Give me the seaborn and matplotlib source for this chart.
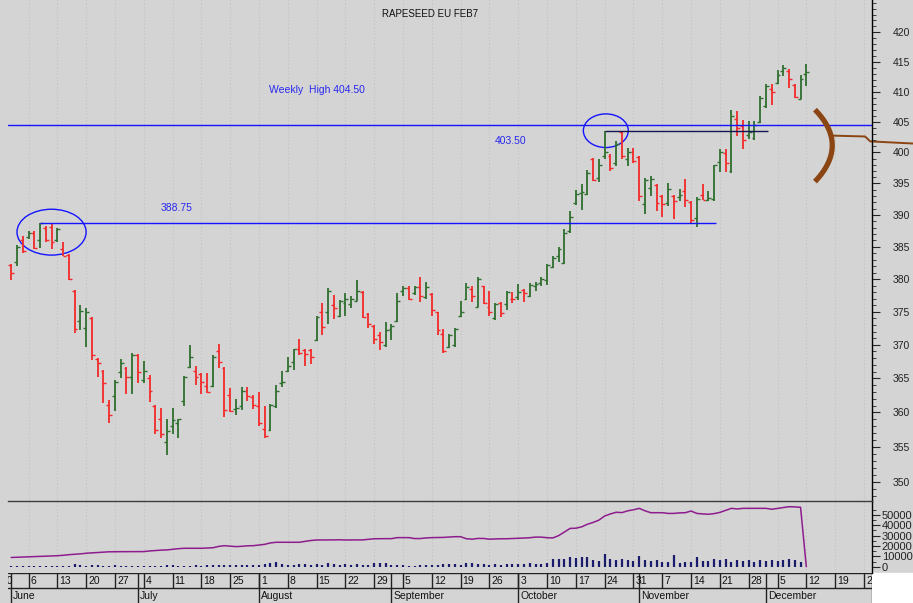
import numpy as np
import pandas as pd
import matplotlib
matplotlib.use('Agg')
import matplotlib.pyplot as plt
from matplotlib.patches import Ellipse, Rectangle
from matplotlib.ticker import FixedLocator, NullFormatter, FuncFormatter
import seaborn as sns

# trading-day index (0 = Mon 30 May 2016); first bar is Wed 1 June
first_idx = 2

opens = [382.1, 382.6, 386.1, 386.45, 387.1, 386.0, 387.9, 388.1,
         386.1, 384.7, 383.7, 378.2, 373.6, 372.6, 374.1, 367.9, 366.1, 361.1,
         362.4, 366.0, 366.6, 365.25, 368.5, 364.75, 365.0, 360.95, 359.1, 355.7,
         358.0, 358.4, 361.6, 366.65, 366.1, 365.65, 363.9, 363.9, 369.1, 366.6,
         362.5, 360.45, 360.9, 363.1, 362.3, 360.9, 357.6, 357.5, 360.9, 364.3,
         366.1, 367.5, 369.4, 369.15, 369.15, 370.7, 374.95, 374.95, 376.0, 374.4,
         376.25, 376.1, 376.6, 378.0, 374.7, 372.9, 371.4, 370.0, 372.4, 373.6,
         378.1, 378.6, 377.9, 378.75, 377.2, 377.7, 374.9, 371.65, 369.7, 370.0,
         374.4, 377.0, 378.5, 375.7, 378.9, 375.7, 374.05, 376.25, 376.1, 377.0,
         377.3, 378.3, 377.35, 378.95, 379.4, 379.8, 381.85, 383.6, 382.45, 387.4,
         391.9, 393.5, 393.4, 399.0, 395.9, 399.35, 399.5, 398.3, 403.3, 398.9,
         400.05, 399.3, 391.7, 394.3, 394.7, 392.95, 391.9, 393.05, 392.9, 393.75,
         392.0, 389.5, 393.2, 392.3, 392.5, 398.4, 399.95, 397.0, 405.45, 404.35,
         402.9, 402.4, 405.05, 407.55, 410.45, 411.45, 413.4, 413.4, 411.05, 408.8,
         412.9]
highs = [382.35, 385.2, 386.7, 387.5, 387.5, 388.75, 388.2, 388.55,
         388.0, 385.7, 383.8, 378.3, 376.0, 375.6, 374.2, 368.0, 366.2, 361.8,
         364.75, 367.9, 366.7, 368.7, 368.55, 367.6, 365.5, 361.1, 360.6, 359.1,
         360.6, 359.1, 365.35, 369.9, 366.8, 365.75, 365.75, 368.5, 370.15, 366.7,
         363.6, 361.9, 363.75, 363.75, 362.6, 363.0, 360.95, 361.2, 364.0, 366.1,
         368.2, 369.4, 370.85, 369.3, 369.3, 374.4, 376.25, 378.6, 377.6, 376.8,
         377.9, 377.4, 379.9, 378.1, 374.8, 373.05, 371.9, 373.4, 373.2, 377.8,
         378.9, 378.9, 379.0, 380.3, 379.5, 377.8, 375.0, 372.4, 371.65, 372.6,
         376.6, 379.4, 378.9, 380.25, 379.0, 378.15, 376.25, 376.5, 378.15, 378.05,
         379.2, 378.5, 379.4, 379.5, 380.25, 382.35, 383.5, 384.95, 387.8, 390.65,
         393.9, 394.85, 397.15, 399.15, 398.9, 403.5, 399.7, 401.8, 403.5, 400.75,
         400.75, 399.4, 395.9, 396.2, 394.85, 393.2, 395.1, 393.2, 394.05, 395.65,
         392.15, 392.8, 394.85, 393.75, 398.05, 400.5, 400.5, 406.9, 406.7, 405.3,
         405.2, 405.2, 409.2, 411.3, 411.2, 413.55, 414.5, 413.8, 411.2, 412.8,
         414.65]
lows = [379.9, 381.95, 384.0, 386.2, 384.6, 384.8, 385.7, 384.6,
        385.8, 383.5, 379.9, 371.8, 372.2, 369.7, 367.7, 365.25, 361.4, 358.4,
        360.2, 365.0, 362.7, 362.7, 364.25, 364.25, 361.5, 356.9, 356.3, 353.9,
        356.8, 356.3, 360.9, 366.6, 364.0, 362.7, 362.9, 363.75, 366.5, 359.4,
        360.05, 359.6, 360.35, 361.7, 360.45, 358.0, 356.3, 357.3, 360.7, 363.75,
        366.0, 366.2, 368.5, 366.9, 367.1, 370.6, 371.5, 373.2, 373.9, 374.2,
        374.4, 375.6, 376.6, 374.1, 372.6, 370.15, 369.2, 369.7, 370.75, 373.4,
        377.35, 376.8, 377.6, 376.4, 377.0, 374.4, 371.4, 368.7, 369.5, 369.7,
        374.2, 376.8, 376.4, 375.7, 376.1, 374.4, 373.7, 374.2, 375.3, 376.25,
        376.8, 376.4, 377.2, 378.1, 379.0, 379.1, 381.7, 382.7, 382.35, 387.2,
        391.6, 390.8, 393.2, 395.4, 395.2, 398.9, 397.0, 397.8, 399.0, 397.8,
        398.3, 392.15, 390.1, 392.95, 390.55, 389.75, 391.35, 389.3, 392.15, 391.25,
        388.8, 388.1, 392.3, 392.15, 392.15, 396.8, 396.8, 396.7, 402.6, 400.5,
        402.2, 402.1, 404.8, 407.3, 407.7, 411.2, 412.55, 410.6, 408.95, 408.7,
        410.9]
closes = [381.0, 384.95, 384.3, 387.2, 384.75, 388.7, 386.0, 385.7,
          387.8, 383.6, 380.0, 372.4, 375.05, 375.0, 368.4, 367.25, 364.35, 359.6,
          364.5, 367.3, 365.25, 368.5, 366.0, 366.1, 363.1, 357.5, 356.8, 357.35,
          358.9, 359.0, 365.25, 368.2, 365.25, 364.4, 363.0, 368.2, 367.5, 360.35,
          360.2, 360.6, 363.1, 362.45, 361.1, 358.4, 356.55, 361.1, 363.1, 364.5,
          366.8, 369.3, 368.7, 368.55, 368.2, 374.2, 372.7, 378.1, 375.5, 376.6,
          376.9, 377.0, 378.2, 374.2, 373.2, 370.9, 370.4, 372.2, 372.8, 376.6,
          378.6, 377.0, 378.75, 377.35, 378.7, 375.3, 372.2, 369.1, 371.4, 372.35,
          375.0, 378.75, 377.4, 380.05, 376.25, 374.95, 376.1, 374.8, 378.05, 376.95,
          378.05, 377.8, 379.1, 379.2, 380.05, 382.1, 383.2, 384.7, 387.2, 389.7,
          393.4, 393.6, 396.75, 395.55, 398.05, 400.15, 397.5, 401.3, 399.4, 400.05,
          398.6, 393.05, 395.5, 395.65, 391.9, 391.8, 394.05, 392.15, 393.2, 392.4,
          389.2, 392.5, 392.4, 392.7, 397.9, 400.1, 398.3, 406.0, 404.0, 402.0,
          403.4, 404.5, 408.95, 411.0, 409.9, 412.8, 413.95, 412.1, 409.1, 412.1,
          413.3]
volumes = [900, 1000, 1000, 900, 1100, 1000, 1000, 1000,
           1000, 1100, 1000, 2200, 1200, 1000, 1500, 1200, 1000, 1100,
           1400, 1000, 1100, 1000, 1000, 1100, 1000, 1000, 1100, 1200,
           1600, 1000, 1100, 1000, 1200, 1000, 1200, 1600, 1500, 1600,
           1600, 1400, 1600, 1500, 1300, 2000, 2200, 3200, 4500, 2800,
           2000, 2000, 2400, 2200, 2000, 2300, 2100, 3300, 2200, 2000,
           2200, 2000, 2300, 2100, 2000, 3600, 3700, 3400, 2000, 1500,
           1200, 1100, 1000, 1300, 1700, 2000, 2100, 2400, 2600, 2200,
           1800, 3600, 3200, 2200, 2500, 2000, 2400, 2100, 2600, 2400,
           2300, 2400, 3300, 2200, 2600, 3600, 7300, 7400, 7200, 9500,
           8800, 9000, 9200, 6500, 5500, 12500, 7500, 6800, 7000, 6600,
           5200, 10800, 6300, 5800, 6000, 4800, 5000, 11300, 4000, 4500,
           4200, 9300, 5100, 5200, 7000, 6000, 7400, 5000, 6300, 5400,
           6500, 4800, 6800, 5600, 6900, 5300, 6000, 7100, 6500, 5000,
           0]
open_interest = [8900, 9100, 9300, 9500, 9700, 9900, 10100, 10300,
                 10600, 11000, 11600, 12000, 12400, 13000, 13300, 13700, 14100, 14400,
                 14500, 14500, 14500, 14500, 14500, 14600, 15200, 15600, 16000, 16200,
                 16800, 17400, 17800, 17800, 17800, 17800, 18000, 18300, 19600, 20300,
                 19800, 19400, 19700, 20200, 20300, 21000, 21600, 23000, 23600, 23600,
                 23600, 23600, 23600, 24500, 25300, 25800, 25800, 25800, 25900, 26000,
                 25800, 25800, 25800, 25900, 26400, 27000, 27100, 27100, 27100, 28100,
                 28100, 28100, 27200, 27200, 27800, 28100, 28200, 28300, 28700, 29000,
                 29000, 27000, 26600, 27300, 27300, 26600, 26800, 27000, 27000, 27200,
                 27400, 27700, 28000, 28600, 28600, 28000, 27800, 30000, 33500, 37000,
                 37200, 38500, 41000, 42800, 45000, 49000, 51000, 52600, 52300, 54000,
                 55000, 56400, 54000, 52200, 52200, 52200, 51500, 51500, 52000, 52200,
                 53800, 51500, 51000, 50700, 51300, 52500, 54500, 56400, 55800, 56400,
                 56400, 56400, 56400, 56400, 55500, 56300, 57000, 58000, 57800, 57400,
                 0]

# date axis: Mondays every 5 trading days, month starts
week_labels = ['30', '6', '13', '20', '27', '4', '11', '18', '25', '1', '8', '15',
               '22', '29', '5', '12', '19', '26', '3', '10', '17', '24', '31', '7',
               '14', '21', '28', '5', '12', '19', '26']
month_names = ['June', 'July', 'August', 'September', 'October', 'November', 'December']
month_start_idx = [2, 24, 45, 68, 90, 111, 133]

weekly_high = 404.50
swing_high = 403.50
swing_low = 388.75

df = pd.DataFrame({'open': opens, 'high': highs, 'low': lows, 'close': closes,
                   'volume': volumes, 'oi': open_interest})
df['idx'] = np.arange(first_idx, first_idx + len(df))
week_pos = np.arange(len(week_labels)) * 5

sns.set_style('white')
plt.rcParams['font.family'] = ['Liberation Sans', 'DejaVu Sans']

BG = '#d4d4d4'
GREEN = '#2f6f2f'
RED = '#f42a2a'
BLUE = '#1414ff'
BROWN = '#8b4513'
GRID = '#c2c2c2'
XLIM = (1.44, 151.4)

W, H = 913, 603
fig = plt.figure(figsize=(W / 100, H / 100), dpi=100, facecolor=BG)


def px_axes(x0, y0, x1, y1):
    return fig.add_axes([x0 / W, 1 - y1 / H, (x1 - x0) / W, (y1 - y0) / H])


ax = px_axes(8, 0, 872, 501)
axv = px_axes(8, 501, 872, 573)
axd = px_axes(8, 573, 872, 603)

# ---- price panel
up = df['close'] >= df['open']
col = np.where(up, GREEN, RED)
ax.vlines(df['idx'], df['low'], df['high'], colors=col, lw=1.3)
ax.hlines(df['open'], df['idx'] - 0.5, df['idx'], colors=col, lw=1.0)
ax.hlines(df['close'], df['idx'], df['idx'] + 0.5, colors=col, lw=1.0)

ax.set_yscale('log')
ax.set_facecolor(BG)
ax.yaxis.set_major_locator(FixedLocator(np.arange(350, 425, 5)))
ax.yaxis.set_major_formatter(FuncFormatter(lambda v, p: f'{v:.0f}'))
ax.yaxis.set_minor_locator(FixedLocator(np.arange(348, 426, 1)))
ax.yaxis.set_minor_formatter(NullFormatter())
ax.yaxis.tick_right()
ax.tick_params(axis='y', which='major', direction='out', length=6, width=0.8,
               pad=9, labelsize=7.5, labelcolor='#222222')
ax.tick_params(axis='y', which='minor', direction='out', length=3, width=0.6)
ax.set_xticks(week_pos)
ax.tick_params(axis='x', length=0, labelbottom=False)
ax.set_xlim(*XLIM)
ax.set_ylim(347.3, 425.5)
ax.grid(axis='x', color=GRID, linestyle=(0, (1, 2)), lw=0.8)
ax.set_axisbelow(True)
for s in ['top', 'left', 'bottom']:
    ax.spines[s].set_visible(False)
ax.spines['right'].set_color('black')
ax.spines['right'].set_linewidth(1)

ax.text(0.488, 0.972, 'RAPESEED EU FEB7', transform=ax.transAxes, ha='center',
        va='center', fontsize=7, color='#111111')

# support / resistance marks
ax.axhline(weekly_high, color=BLUE, lw=1)
ax.hlines(swing_low, 7, 124.4, color=BLUE, lw=1)
ax.hlines(swing_high, 105, 133.4, color='#15154f', lw=1)
ax.text(46.75, 410.3, 'Weekly  High 404.50', color='#2828f0', fontsize=7.5,
        ha='left', va='center')
ax.text(86, 401.9, '403.50', color='#2828f0', fontsize=7.5, ha='left', va='center')
ax.text(28, 391.1, '388.75', color='#2828f0', fontsize=7.5, ha='left', va='center')
ax.add_patch(Ellipse((9.0, 387.3), 12.0, 7.2, fill=False, ec=BLUE, lw=1))
ax.add_patch(Ellipse((105.2, 403.55), 7.8, 5.5, fill=False, ec=BLUE, lw=1))

# brown hand-drawn bracket and line
t = np.linspace(-1, 1, 40)
ax.plot(141.5 + 3.0 * (1 - t ** 2), 401.15 - 5.85 * t, color=BROWN, lw=3.8,
        solid_capstyle='butt', clip_on=False)
ax.plot([144.5, 150.2, 151.1, 158.6], [402.74, 402.6, 401.8, 401.45],
        color=BROWN, lw=1.4, clip_on=False)

# ---- volume / open interest panel
axv.set_facecolor(BG)
axv.vlines(df['idx'], 0, df['volume'], color='#1b1b6e', lw=1.6)
sns.lineplot(data=df, x='idx', y='oi', ax=axv, color='#8e1c8e', lw=1.1)
axv.yaxis.set_major_locator(FixedLocator(np.arange(0, 60000, 10000)))
axv.yaxis.set_major_formatter(FuncFormatter(lambda v, p: f'{v:.0f}'))
axv.yaxis.set_minor_locator(FixedLocator(np.arange(5000, 65000, 10000)))
axv.yaxis.tick_right()
axv.tick_params(axis='y', which='major', direction='out', length=6, width=0.8,
                pad=1, labelsize=8, labelcolor='#222222')
axv.tick_params(axis='y', which='minor', direction='out', length=3, width=0.6)
axv.set_xticks(week_pos)
axv.tick_params(axis='x', length=0, labelbottom=False)
axv.set_xlim(*XLIM)
axv.set_ylim(-6100, 63500)
axv.grid(axis='x', color=GRID, linestyle=(0, (1, 2)), lw=0.8)
axv.set_axisbelow(True)
axv.set_xlabel('')
axv.set_ylabel('')
for s in ['left', 'bottom']:
    axv.spines[s].set_visible(False)
axv.spines['top'].set_color('#3c3c3c')
axv.spines['top'].set_linewidth(1)
axv.spines['right'].set_color('black')
axv.spines['right'].set_linewidth(1)

# ---- date rows
axd.set_facecolor(BG)
axd.set_xlim(*XLIM)
axd.set_ylim(0, 2)
axd.axis('off')
axd.axhline(2, color='#222222', lw=1)
axd.axhline(1, color='#222222', lw=1)
axd.axvline(XLIM[1], color='#222222', lw=1)
axd.vlines(week_pos, 1, 2, color='#222222', lw=1)
axd.vlines(month_start_idx, 0, 2, color='#222222', lw=1)
for p, lab in zip(week_pos, week_labels):
    axd.text(p + 0.35, 1.47, lab, ha='left', va='center', fontsize=7.5,
             color='#111111', clip_on=True)
for p, lab in zip(month_start_idx, month_names):
    axd.text(p + 0.35, 0.45, lab, ha='left', va='center', fontsize=7.5,
             color='#111111', clip_on=True)

fig.add_artist(Rectangle((872 / W, 0), (W - 872) / W, 30 / H,
                         transform=fig.transFigure, color='white', zorder=-1))

fig.savefig('out.png', dpi=100, facecolor=BG)
